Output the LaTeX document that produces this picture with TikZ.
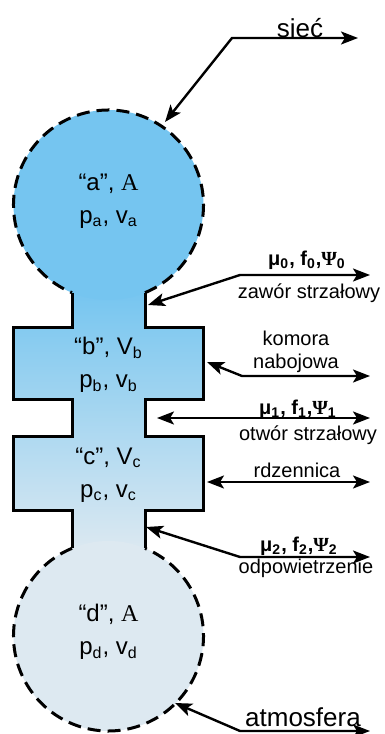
\documentclass[tikz,border=0pt]{standalone}
\usepackage{fontspec}
\setmainfont{Liberation Sans}
\newfontfamily\timesfont{Liberation Serif}
\usetikzlibrary{arrows.meta}

\definecolor{gastop}{RGB}{117,197,240}
\definecolor{gasbottom}{RGB}{221,233,241}

\begin{document}
\begin{tikzpicture}[x=0.5pt,y=0.5pt,
	>={Stealth[length=8.5pt,width=6.5pt,inset=2pt]},
	wall/.style={line width=1.5pt,line join=miter},
	rim/.style={line width=1.5pt,dash pattern=on 6.5pt off 3.5pt},
	lead/.style={line width=1.2pt},
	lbl/.style={font=\fontsize{10}{11.5}\selectfont,align=center},
	biglbl/.style={font=\fontsize{13}{15}\selectfont},
	coef/.style={font=\fontsize{10}{12}\selectfont\bfseries},
	vol/.style={align=center,font=\fontsize{12}{16.5}\selectfont}]
	\useasboundingbox (0,0) rectangle (385,734);
	
	% gas volumes
	\shade[top color=gastop,bottom color=gasbottom]
		(72,445) -- (72,406) -- (13.5,406) -- (13.5,334) -- (72,334) -- (72,297)
		-- (13.5,297) -- (13.5,223) -- (72,223) -- (72,180) -- (145,180) -- (145,223)
		-- (203.5,223) -- (203.5,297) -- (145,297) -- (145,334) -- (203.5,334)
		-- (203.5,406) -- (145,406) -- (145,445) -- cycle;
	\fill[gastop] (108.5,529) circle (95);
	\fill[gasbottom] (108.5,98) circle (95);
	
	% outlines
	\draw[rim] (145,441.3) arc (-67.4:247.4:95);
	\draw[rim] (72,185.7) arc (112.6:427.4:95);
	\draw[wall] (72,441.3) |- (13.5,406) |- (72,334) |- (13.5,297) |- (72,223) -- (72,185.7);
	\draw[wall] (145,441.3) |- (203.5,406) |- (145,334) |- (203.5,297) |- (145,223) -- (145,185.7);
	
	\node[vol] (a) at (108.5,533) {“a”, {\timesfont A}\\p\textsubscript{a}, v\textsubscript{a}};
	\node[vol] (b) at (108.5,369) {“b”, V\textsubscript{b}\\p\textsubscript{b}, v\textsubscript{b}};
	\node[vol] (c) at (108.5,259) {“c”, V\textsubscript{c}\\p\textsubscript{c}, v\textsubscript{c}};
	\node[vol] (d) at (108.5,102) {“d”, {\timesfont A}\\p\textsubscript{d}, v\textsubscript{d}};
	
	% sieć
	\coordinate (siec-tip) at (165,612);
	\coordinate (siec-knee) at (232,696);
	\coordinate (siec-end) at (358,696);
	\draw[lead,<->] (siec-tip) -- (siec-knee) -- (siec-end);
	\node[biglbl] (siec) at (300,706) {sieć};
	
	% zawór strzałowy
	\coordinate (zawor-tip) at (148,429);
	\coordinate (zawor-knee) at (240,459);
	\coordinate (zawor-end) at (370,459);
	\draw[lead,<->] (zawor-tip) -- (zawor-knee) -- (zawor-end);
	\node[coef] (mu0) at (307,474) {μ\textsubscript{0}, f\textsubscript{0},{\timesfont\bfseries Ψ}\textsubscript{0}};
	\node[lbl] (zawor) at (309,441) {zawór strzałowy};
	
	% komora nabojowa
	\coordinate (komora-tip) at (207,372);
	\coordinate (komora-knee) at (242,358);
	\coordinate (komora-end) at (370,358);
	\draw[lead,<->] (komora-tip) -- (komora-knee) -- (komora-end);
	\node[lbl] (komora) at (296,382.5) {komora\\nabojowa};
	
	% otwór strzałowy
	\coordinate (otwor-tip) at (157,316);
	\coordinate (otwor-end) at (370,316);
	\draw[lead,<->] (otwor-tip) -- (otwor-end);
	\node[coef] (mu1) at (298,325) {μ\textsubscript{1}, f\textsubscript{1},{\timesfont\bfseries Ψ}\textsubscript{1}};
	\node[lbl] (otwor) at (308,299) {otwór strzałowy};
	
	% rdzennica
	\coordinate (rdzen-tip) at (207,252);
	\coordinate (rdzen-end) at (370,252);
	\draw[lead,<->] (rdzen-tip) -- (rdzen-end);
	\node[lbl] (rdzen) at (297,264) {rdzennica};
	
	% odpowietrzenie
	\coordinate (odpow-tip) at (146,207);
	\coordinate (odpow-knee) at (240,177);
	\coordinate (odpow-end) at (370,177);
	\draw[lead,<->] (odpow-tip) -- (odpow-knee) -- (odpow-end);
	\node[coef] (mu2) at (299,188) {μ\textsubscript{2}, f\textsubscript{2},{\timesfont\bfseries Ψ}\textsubscript{2}};
	\node[lbl] (odpow) at (306,166) {odpowietrzenie};
	
	% atmosfera
	\coordinate (atm-tip) at (175,31);
	\coordinate (atm-knee) at (240,3);
	\coordinate (atm-end) at (370,3);
	\draw[lead,<->] (atm-tip) -- (atm-knee) -- (atm-end);
	\node[biglbl] (atm) at (303,17) {atmosfera};
\end{tikzpicture}
\end{document}
